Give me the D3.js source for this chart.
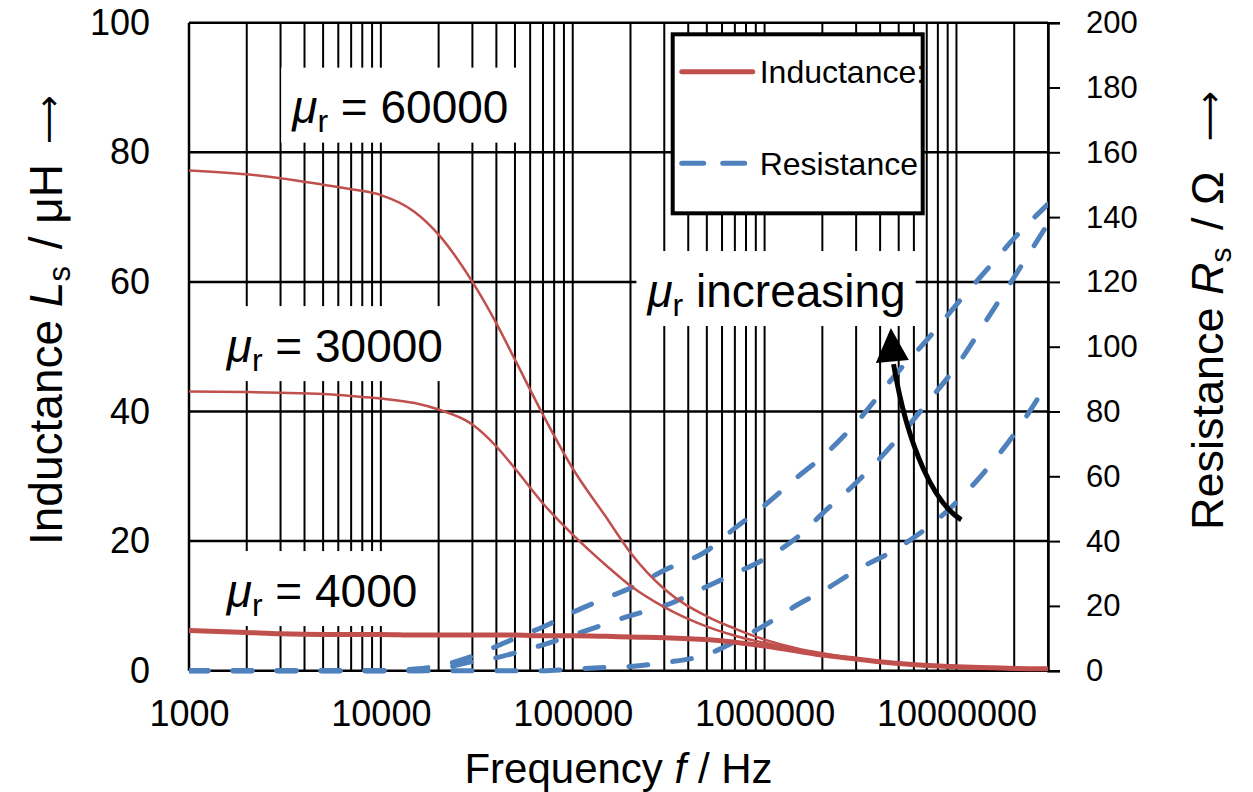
<!DOCTYPE html>
<html>
<head>
<meta charset="utf-8">
<script src="https://cdn.jsdelivr.net/npm/d3@7/dist/d3.min.js"></script>
<style>
  body { margin: 0; background: #fff; }
  text { font-family: "Liberation Sans", Arial, sans-serif; fill: #000; }
</style>
</head>
<body>
<div class="chart"></div>
<script>
// frequency points (Hz)
var freq = [1e3, 2e3, 3e3, 5e3, 7e3, 1e4, 1.5e4, 2e4, 3e4, 4e4, 5e4, 7e4, 1e5, 1.5e5, 2e5,
            3e5, 5e5, 7e5, 1e6, 1.5e6, 2e6, 3e6, 5e6, 7e6, 1e7, 1.5e7, 2e7, 3e7];

// inductance Ls / uH
var L4000  = [6.2, 5.9, 5.7, 5.6, 5.6, 5.6, 5.5, 5.5, 5.5, 5.5, 5.5, 5.4, 5.4, 5.3, 5.2,
              5.1, 4.8, 4.4, 3.8, 3.0, 2.4, 1.8, 1.1, 0.8, 0.6, 0.45, 0.35, 0.3];
var L30000 = [43.1, 43.0, 42.9, 42.7, 42.4, 42.0, 41.3, 40.3, 38.0, 34.6, 31.2, 25.8, 21.0, 16.2, 13.1,
              9.8, 6.8, 5.4, 4.3, 3.2, 2.6, 1.8, 1.2, 0.9, 0.7, 0.5, 0.4, 0.3];
var L60000 = [77.2, 76.6, 76.0, 75.0, 74.3, 73.4, 70.8, 67.3, 60.0, 53.6, 48.0, 39.5, 31.2, 23.6, 18.2,
              12.6, 8.4, 6.5, 4.8, 3.4, 2.7, 1.9, 1.2, 0.9, 0.7, 0.5, 0.4, 0.3];

// resistance Rs / Ohm
var R4000  = [0, 0, 0, 0, 0, 0, 0, 0, 0, 0, 0, 0, 0.5, 1, 1.3,
              2.5, 5, 9, 14, 20.5, 24.5, 31, 38, 44, 52, 63.5, 73, 89];
var R30000 = [0, 0, 0, 0, 0, 0, 0, 0.5, 2.8, 4, 5.5, 8, 11, 14.5, 17,
              20, 26, 30, 34.5, 41.5, 48.5, 58, 72, 82.5, 94, 110, 121.5, 138];
var R60000 = [0, 0, 0, 0, 0, 0, 0.5, 1.5, 4.5, 7.5, 10, 13.5, 18, 22.5, 25.5,
              31, 37, 44, 51, 60, 66, 76.5, 92.5, 102, 113, 125, 133.5, 144];

var xTicks = [1e3, 1e4, 1e5, 1e6, 1e7];
var leftTicks = [0, 20, 40, 60, 80, 100];
var rightTicks = [0, 20, 40, 60, 80, 100, 120, 140, 160, 180, 200];

var width = 1253,
    height = 792,
    margin = {top: 22.7, right: 205, bottom: 121.3, left: 189};

var red = '#c0504d', blue = '#4f81bd';

var svg = d3.select('.chart').append('svg')
    .attr('width', width)
    .attr('height', height);

var x = d3.scaleLog().domain([1e3, 3e7]).range([margin.left, width - margin.right]);
var yL = d3.scaleLinear().domain([0, 100]).range([height - margin.bottom, margin.top]);
var yR = d3.scaleLinear().domain([0, 200]).range([height - margin.bottom, margin.top]);

var x0 = x.range()[0], x1 = x.range()[1], yb = yL.range()[0], yt = yL.range()[1];

// vertical grid: every minor log step
var minor = [];
for (var e = 3; e <= 7; e++)
  for (var m = 1; m <= 9; m++) {
    var v = m * Math.pow(10, e);
    if (v > 1e3 && v <= 3e7) minor.push(v);
  }

svg.append('g').selectAll('line').data(minor).enter().append('line')
  .attr('x1', function(d) { return x(d); })
  .attr('x2', function(d) { return x(d); })
  .attr('y1', yt).attr('y2', yb)
  .attr('stroke', '#000').attr('stroke-width', 2);

svg.append('g').selectAll('line').data(leftTicks).enter().append('line')
  .attr('x1', x0).attr('x2', x1)
  .attr('y1', function(d) { return yL(d); })
  .attr('y2', function(d) { return yL(d); })
  .attr('stroke', '#000').attr('stroke-width', 2.5);

// left axis line
svg.append('line').attr('x1', x0).attr('x2', x0).attr('y1', yt).attr('y2', yb)
  .attr('stroke', '#000').attr('stroke-width', 2.5);

// right axis with outward ticks
var rAxis = svg.append('g').attr('transform', 'translate(' + x1 + ',0)')
  .call(d3.axisRight(yR).tickValues(rightTicks).tickSize(12).tickPadding(26));
rAxis.select('.domain').attr('stroke-width', 2.5);
rAxis.selectAll('.tick line').attr('stroke-width', 2);
rAxis.selectAll('.tick text')
  .style('font-family', '"Liberation Sans", Arial, sans-serif')
  .style('font-size', '31px');

// left tick labels
var lAxis = svg.append('g').attr('transform', 'translate(' + x0 + ',0)')
  .call(d3.axisLeft(yL).tickValues(leftTicks).tickSize(0).tickPadding(39));
lAxis.select('.domain').remove();
lAxis.selectAll('.tick text')
  .style('font-family', '"Liberation Sans", Arial, sans-serif')
  .style('font-size', '36px');

// bottom tick labels
var bAxis = svg.append('g').attr('transform', 'translate(0,' + yb + ')')
  .call(d3.axisBottom(x).tickValues(xTicks).tickFormat(d3.format('d')).tickSize(0).tickPadding(30));
bAxis.select('.domain').remove();
bAxis.selectAll('.tick text')
  .style('font-family', '"Liberation Sans", Arial, sans-serif')
  .style('font-size', '36px');

// label boxes
var labels = [
  {f: 3450, v: 84.5, num: ' = 60000'},
  {f: 1573, v: 47.7, num: ' = 30000'},
  {f: 1573, v: 9.9, num: ' = 4000'},
  {f: 245000, v: 56.2, num: ' increasing'}
];

var labG = svg.append('g');
labels.forEach(function(l) {
  var g = labG.append('g');
  var rect = g.append('rect').attr('fill', '#fff');
  var t = g.append('text')
    .attr('x', x(l.f)).attr('y', yL(l.v))
    .style('font-size', '46px');
  t.append('tspan').style('font-style', 'italic').text('\u03bc');
  t.append('tspan').attr('dy', 9).style('font-size', '32px').text('r');
  t.append('tspan').attr('dy', -9).text(l.num);
  var b = t.node().getBBox();
  rect.attr('x', b.x - 10).attr('width', b.width + 20)
    .attr('y', yL(l.v) - 55.5).attr('height', 75);
});

// curves
svg.append('clipPath').attr('id', 'plot')
  .append('rect').attr('x', x0).attr('y', yt - 5).attr('width', x1 - x0).attr('height', yb - yt + 10);

var lineL = function(vals) {
  return d3.line().curve(d3.curveMonotoneX)
    .x(function(d, i) { return x(freq[i]); })
    .y(function(d) { return yL(d); })(vals);
};
var lineR = function(vals) {
  return d3.line().curve(d3.curveMonotoneX)
    .x(function(d, i) { return x(freq[i]); })
    .y(function(d) { return yR(d); })(vals);
};

var curves = svg.append('g').attr('clip-path', 'url(#plot)');

[R4000, R30000, R60000].forEach(function(s) {
  curves.append('path').attr('d', lineR(s))
    .attr('fill', 'none').attr('stroke', blue).attr('stroke-width', 5)
    .attr('stroke-dasharray', '19,25').attr('stroke-linecap', 'round');
});

curves.append('path').attr('d', lineL(L4000))
  .attr('fill', 'none').attr('stroke', red).attr('stroke-width', 5);
[L30000, L60000].forEach(function(s) {
  curves.append('path').attr('d', lineL(s))
    .attr('fill', 'none').attr('stroke', red).attr('stroke-width', 2.5);
});

// arrow "mu_r increasing"
var arr = [[1.06e7, 23.3], [7.8e6, 25.6], [5.6e6, 34], [4.7e6, 47.3]];
var ap = d3.path();
ap.moveTo(x(arr[0][0]), yL(arr[0][1]));
ap.bezierCurveTo(x(arr[1][0]), yL(arr[1][1]), x(arr[2][0]), yL(arr[2][1]), x(arr[3][0]), yL(arr[3][1]));
svg.append('path').attr('d', ap.toString())
  .attr('fill', 'none').attr('stroke', '#000').attr('stroke-width', 5);
var tipX = x(4.55e6), tipY = yL(52.9);
svg.append('path')
  .attr('d', 'M' + tipX + ',' + tipY + 'L' + (tipX - 15) + ',' + (tipY + 35) + 'L' + (tipX + 18) + ',' + (tipY + 32) + 'Z')
  .attr('fill', '#000');

// legend
var lg = svg.append('g');
var lx = 672.7, ly = 34.3, lw = 250, lh = 179;
lg.append('clipPath').attr('id', 'legclip')
  .append('rect').attr('x', lx).attr('y', ly).attr('width', lw).attr('height', lh);
lg.append('rect').attr('x', lx).attr('y', ly).attr('width', lw).attr('height', lh)
  .attr('fill', '#fff');
var li = lg.append('g').attr('clip-path', 'url(#legclip)');
li.append('line').attr('x1', lx + 9).attr('x2', lx + 80).attr('y1', ly + 37.4).attr('y2', ly + 37.4)
  .attr('stroke', red).attr('stroke-width', 5).attr('stroke-linecap', 'round');
li.append('text').attr('x', lx + 87).attr('y', ly + 48.7).style('font-size', '32px').text('Inductance:');
li.append('line').attr('x1', lx + 9).attr('x2', lx + 80).attr('y1', ly + 129).attr('y2', ly + 129)
  .attr('stroke', blue).attr('stroke-width', 5).attr('stroke-linecap', 'round')
  .attr('stroke-dasharray', '22,19');
li.append('text').attr('x', lx + 87).attr('y', ly + 140.7).style('font-size', '32px').text('Resistance');
lg.append('rect').attr('x', lx).attr('y', ly).attr('width', lw).attr('height', lh)
  .attr('fill', 'none').attr('stroke', '#000').attr('stroke-width', 4);

// axis titles
var xt = svg.append('text').attr('x', (x0 + x1) / 2).attr('y', 783)
  .attr('text-anchor', 'middle').style('font-size', '42px');
xt.append('tspan').text('Frequency ');
xt.append('tspan').style('font-style', 'italic').text('f');
xt.append('tspan').text(' / Hz');

var ylt = svg.append('text').attr('transform', 'translate(62,545) rotate(-90)')
  .style('font-size', '46px');
ylt.append('tspan').text('Inductance ');
ylt.append('tspan').style('font-style', 'italic').text('L');
ylt.append('tspan').attr('dy', 8).style('font-size', '31px').text('s');
ylt.append('tspan').attr('dy', -8).attr('dx', 4).text(' / \u03bcH');
ylt.append('tspan').attr('dx', 20).attr('dy', -2)
  .style('font-family', '"DejaVu Sans", sans-serif').style('font-size', '34px').text('\u27f6');

var yrt = svg.append('text').attr('transform', 'translate(1223,530) rotate(-90)')
  .style('font-size', '45px');
yrt.append('tspan').text('Resistance ');
yrt.append('tspan').style('font-style', 'italic').text('R');
yrt.append('tspan').attr('dy', 8).style('font-size', '30px').text('s');
yrt.append('tspan').attr('dy', -8).attr('dx', 5).text(' / \u03a9');
yrt.append('tspan').attr('dx', 30).attr('dy', -2)
  .style('font-family', '"DejaVu Sans", sans-serif').style('font-size', '35px').text('\u27f6');
</script>
</body>
</html>
